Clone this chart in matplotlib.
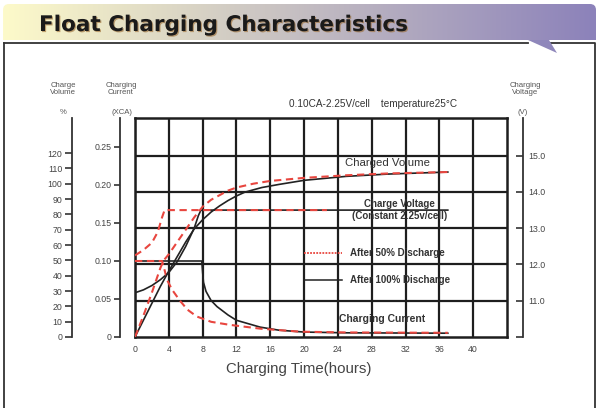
import matplotlib
matplotlib.use("Agg")
import numpy as np
import matplotlib.pyplot as plt
from matplotlib.lines import Line2D
from matplotlib.patches import FancyBboxPatch, Polygon, Rectangle
import matplotlib.patheffects as pe

plt.rcParams['font.family'] = ['Liberation Sans', 'DejaVu Sans']

# --- Data ---
hours_ticks = list(range(0, 44, 4))

# charged volume (%)
vol100_t = [0, 1, 2, 3, 4, 5, 6, 7, 8, 9, 10, 11, 12, 13, 15, 17, 20, 25, 30, 37]
vol100 = [0, 11, 22, 33, 43, 52.5, 62, 70.5, 76.5, 81.5, 85.5, 89, 92, 94.5, 97.5, 99.5, 102.2, 104.8, 106.3, 107.6]
vol50_t = [0, 1, 2, 3, 3.4, 4, 5, 6, 7, 8, 9, 10, 11, 12, 14, 16, 20, 25, 30, 37]
vol50 = [0, 14, 29, 45, 50, 54, 62, 70, 78, 85, 89.5, 92.5, 95.5, 97.5, 100, 101.8, 103.8, 105.5, 106.7, 107.6]

# charge voltage (V)
volt100_t = [0, 1, 2, 3, 4, 5, 6, 7, 7.5, 7.8, 37]
volt100 = [11.22, 11.3, 11.42, 11.58, 11.78, 12.08, 12.5, 13.0, 13.35, 13.5, 13.5]
volt50_t = [0, 1, 2, 2.7, 3.2, 3.5, 22.7]
volt50 = [12.25, 12.4, 12.6, 12.9, 13.3, 13.5, 13.5]

# charging current (xCA)
cur100_t = [0, 7.9, 8.0, 8.1, 8.4, 9.0, 9.7, 11, 12, 14.8, 17, 20, 25, 37]
cur100 = [0.10, 0.10, 0.085, 0.072, 0.060, 0.048, 0.040, 0.029, 0.022, 0.013, 0.009, 0.0065, 0.0055, 0.005]
cur50_t = [0, 3.2, 3.5, 3.8, 4.4, 5.3, 6.2, 7.3, 9, 11.2, 14.8, 19.5, 25, 37]
cur50 = [0.10, 0.10, 0.088, 0.075, 0.062, 0.048, 0.036, 0.027, 0.020, 0.016, 0.011, 0.007, 0.006, 0.0055]

vol_ticks = list(range(0, 130, 10))
cur_ticks = [0, 0.05, 0.10, 0.15, 0.20, 0.25]
cur_labels = ['0', '0.05', '0.10', '0.15', '0.20', '0.25']
volt_ticks = [10, 11, 12, 13, 14, 15]
volt_labels = ['', '11.0', '12.0', '13.0', '14.0', '15.0']

# --- Figure / background ---
W, H = 598, 408
fig = plt.figure(figsize=(W / 100, H / 100), dpi=100)

bg = fig.add_axes([0, 0, 1, 1], zorder=-1)
bg.set_xlim(0, W)
bg.set_ylim(H, 0)
bg.axis('off')

# title banner with gradient
band = FancyBboxPatch((3, 4), 593, 44, boxstyle="round,pad=0,rounding_size=6",
                      transform=bg.transData, facecolor='none', edgecolor='none')
bg.add_patch(band)
c0 = np.array([253, 250, 202]) / 255
c1 = np.array([140, 130, 186]) / 255
grad = np.linspace(0, 1, 256)[None, :, None]
img = c0 + (c1 - c0) * grad
im = bg.imshow(img, extent=[3, 596, 48, 4], aspect='auto', zorder=1)
im.set_clip_path(band)
bg.add_patch(Rectangle((0, 40), W, H - 40, facecolor='white', edgecolor='none', zorder=2))
bg.add_patch(Polygon([(528, 40), (549, 40), (557, 53)], closed=True,
                     facecolor='#8f87bb', edgecolor='none', zorder=4))
bg.plot([4, 528], [43, 43], color='#333', lw=1.3, zorder=3)
bg.plot([549, 595, 595], [43, 43, H], color='#333', lw=1.3, zorder=3)
bg.plot([4, 4], [43, H], color='#333', lw=1.3, zorder=3)

bg.text(39, 31, "Float Charging Characteristics", fontsize=15.5, fontweight='bold',
        color='#1a1a1a', family=['DejaVu Sans'],
        va='baseline', ha='left', zorder=5,
        path_effects=[pe.withSimplePatchShadow(offset=(0.8, -0.8), shadow_rgbFace='#9a6a30', alpha=0.6)])

hdr = dict(fontsize=5.6, color='#555', ha='center', va='center', linespacing=1.15, zorder=5)
bg.text(63, 89, "Charge\nVolume", **hdr)
bg.text(63, 113, "%", **hdr)
bg.text(121, 89, "Charging\nCurrent", **hdr)
bg.text(122, 113, "(XCA)", **hdr)
bg.text(525, 89, "Charging\nVoltage", **hdr)
bg.text(523, 113, "(V)", **hdr)
bg.text(373, 104, "0.10CA-2.25V/cell    temperature25\u00b0C", fontsize=7.2, color='#333',
        ha='center', va='center', zorder=5)

# --- Main grid axes (x: hours, y: voltage grid) ---
pos = [135 / W, 1 - 337 / H, 372 / W, 219 / H]
ax = fig.add_axes(pos)
ax.set_xlim(0, 44)
ax.set_ylim(10, 16.04)
ax.set_xticks(hours_ticks)
ax.set_yticks([11, 12, 13, 14, 15])
ax.grid(True, color='#1e1e1e', lw=1.6)
ax.tick_params(axis='both', length=0, labelsize=6.3, colors='#444')
ax.tick_params(axis='x', pad=6)
ax.tick_params(axis='y', labelleft=False)
for s in ax.spines.values():
    s.set_linewidth(1.8)
    s.set_color('#1e1e1e')
ax.set_xlabel("Charging Time(hours)", fontsize=10.8, color='#444')
ax.xaxis.set_label_coords((299 - 135) / 372, -0.115)

# voltage axis (right)
ax_v = ax.twinx()
ax_v.set_ylim(10, 16.04)
for k in ['left', 'top', 'bottom']:
    ax_v.spines[k].set_visible(False)
ax_v.spines['right'].set_position(('axes', (523 - 135) / 372))
ax_v.spines['right'].set_linewidth(1.3)
ax_v.spines['right'].set_color('#333')
ax_v.set_yticks(volt_ticks)
ax_v.set_yticklabels(volt_labels)
ax_v.tick_params(axis='y', direction='in', length=5, width=1.2, labelsize=6.3,
                 colors='#333', labelcolor='#444', pad=4)

# current axis (left, inner)
ax_c = ax.twinx()
ax_c.set_ylim(0, 219 / 760)
for k in ['right', 'top', 'bottom']:
    ax_c.spines[k].set_visible(False)
ax_c.spines['left'].set_visible(True)
ax_c.spines['left'].set_position(('axes', (120 - 135) / 372))
ax_c.spines['left'].set_linewidth(1.3)
ax_c.spines['left'].set_color('#333')
ax_c.yaxis.set_ticks_position('left')
ax_c.set_yticks(cur_ticks)
ax_c.set_yticklabels(cur_labels)
ax_c.tick_params(axis='y', length=4, width=1.2, labelsize=6.3, colors='#333',
                 labelcolor='#444', pad=2)

# charge volume axis (left, outer)
ax_p = ax.twinx()
ax_p.set_ylim(0, 219 / 1.533)
for k in ['right', 'top', 'bottom']:
    ax_p.spines[k].set_visible(False)
ax_p.spines['left'].set_visible(True)
ax_p.spines['left'].set_position(('axes', (72 - 135) / 372))
ax_p.spines['left'].set_linewidth(1.3)
ax_p.spines['left'].set_color('#333')
ax_p.yaxis.set_ticks_position('left')
ax_p.set_yticks(vol_ticks)
ax_p.tick_params(axis='y', length=5, width=1.2, labelsize=6.3, colors='#333',
                 labelcolor='#444', pad=2)

# --- Curves ---
red = '#e8463f'
blk = '#222222'
dash = dict(color=red, lw=1.5, ls=(0, (3.5, 2.2)))
solid = dict(color=blk, lw=1.2)

ax_v.plot(volt100_t, volt100, **solid)
ax_v.plot(volt50_t, volt50, **dash)
ax_c.plot(cur100_t, cur100, **solid)
ax_c.plot(cur50_t, cur50, **dash)
ax_p.plot(vol100_t, vol100, **solid)
ax_p.plot(vol50_t, vol50, **dash)

# --- Labels on the chart ---
lab = dict(color='#333', ha='center', va='center')
ax.text(29.9, 14.8, "Charged Volume", fontsize=8.2, **lab)
ax.text(31.3, 13.68, "Charge Voltage", fontsize=7, fontweight='bold', **lab)
ax.text(31.3, 13.34, "(Constant 2.25v/cell)", fontsize=7, fontweight='bold', **lab)
ax.text(29.2, 10.5, "Charging Current", fontsize=7.5, fontweight='bold', **lab)

handles = [Line2D([], [], color=red, lw=1.3, ls=(0, (1, 0.7))),
           Line2D([], [], color=blk, lw=1.1)]
leg = ax_p.legend(handles, ["After 50% Discharge", "After 100% Discharge"],
                  loc='upper left', bbox_to_anchor=(304 / W, 1 - 248 / H),
                  bbox_transform=fig.transFigure, frameon=False, fontsize=7,
                  handlelength=3.9, handletextpad=0.8, labelspacing=1.75, borderpad=0,
                  borderaxespad=0)
for t in leg.get_texts():
    t.set_fontweight('bold')
    t.set_color('#333')

fig.savefig("out.png", dpi=100)
